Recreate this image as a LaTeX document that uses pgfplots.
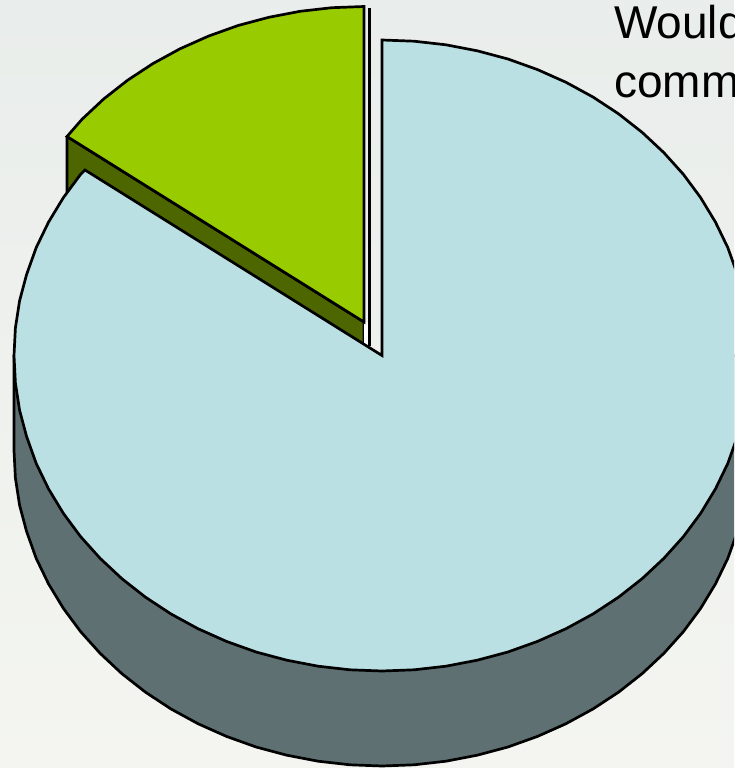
\documentclass[border=0pt]{standalone}
\usepackage{pgfplots}
\pgfplotsset{compat=1.18}
\usepackage{fontspec}
\setmainfont{Liberation Sans}
\definecolor{pblue}{HTML}{BBE0E3}
\definecolor{pgray}{HTML}{5E7072}
\definecolor{pgreen}{HTML}{99CC00}
\definecolor{pdark}{HTML}{4D6600}
\definecolor{bgB}{HTML}{F4F5F0}
\definecolor{bgC}{HTML}{E9EDEB}
\begin{document}
\begin{tikzpicture}
\useasboundingbox (0,0) rectangle (734pt,768pt);
\clip (0,0) rectangle (734pt,768pt);
\shade[top color=bgC,bottom color=bgB,middle color=bgC!50!bgB] (0,0) rectangle (734pt,768pt);
\begin{axis}[
  at={(0,0)},anchor=south west,scale only axis,
  width=734pt,height=768pt,
  xmin=0,xmax=734,ymin=0,ymax=768,y dir=reverse,
  axis lines=none,clip=true]
% side wall of the large slice
\addplot[fill=pgray,draw=black,line width=2.7pt,line join=round] coordinates {
(14,355.5)(14,450.5)(15.4,478)(19.6,505.3)(26.5,531.2)(36.2,558.4)(48.5,583.8)(63.3,608.25)(80.5,631.5)(100.1,653.3)(121.8,673.6)(145.5,692.2)(170.9,708.9)(198,723.7)(226.5,736.4)(256.1,747)(286.8,755.2)(318.1,761.2)(349.9,764.8)(382,766)(414.1,764.8)(445.9,761.2)(477.2,755.2)(507.9,747)(537.5,736.4)(566,723.7)(593.1,708.9)(618.5,692.2)(642.2,673.6)(663.9,653.3)(683.5,631.5)(700.7,608.25)(715.5,583.8)(727.8,558.4)(737.5,531.2)(744.4,505.3)(748.6,478)(750,450.5)(750,355.5)
} -- cycle;
% side wall of the small slice
\addplot[fill=pdark,draw=black,line width=2.7pt,line join=round] coordinates {
(67,136.5)(364,322)(364,356)(67,192)
} -- cycle;
% narrow slice
\addplot[fill=white,draw=none] coordinates {(364,322)(368,322)(368,347)(364,344)} -- cycle;
\addplot[draw=black,line width=3pt] coordinates {(369.5,8)(369.5,346)};
% large slice, top
\addplot[fill=pblue,draw=black,line width=2.7pt,line join=miter] coordinates {
(382,355.5)(382,40)(414.1,41.2)(445.9,44.8)(477.2,50.8)(507.9,59)(537.5,69.6)(566,82.3)(593.1,97.1)(618.5,113.8)(642.2,132.4)(663.9,152.7)(683.5,174.5)(700.7,197.75)(715.5,222.2)(727.8,247.6)(737.5,274.8)(744.4,300.7)(748.6,328)(750,355.5)(748.6,383)(744.4,410.3)(737.5,436.2)(727.8,463.4)(715.5,488.8)(700.7,513.25)(683.5,536.5)(663.9,558.3)(642.2,578.6)(618.5,597.2)(593.1,613.9)(566,628.7)(537.5,641.4)(507.9,652)(477.2,660.2)(445.9,666.2)(414.1,669.8)(382,671)(349.9,669.8)(318.1,666.2)(286.8,660.2)(256.1,652)(226.5,641.4)(198,628.7)(170.9,613.9)(145.5,597.2)(121.8,578.6)(100.1,558.3)(80.5,536.5)(63.3,513.25)(48.5,488.8)(36.2,463.4)(26.5,436.2)(19.6,410.3)(15.4,383)(14,355.5)(15.4,328)(19.6,300.7)(26.5,274.8)(36.2,247.6)(48.5,222.2)(63.3,197.75)(80.5,174.5)(85,170)
} -- cycle;
% small slice, top
\addplot[fill=pgreen,draw=black,line width=2.7pt,line join=miter] coordinates {
(364,322)(67,136.5)(82.1,119.2)(103.8,98.9)(127.5,80.3)(152.9,63.6)(180,48.8)(208.5,36.1)(238.1,25.5)(268.8,17.3)(300.1,11.3)(331.9,7.7)(364,6.5)
} -- cycle;
\node[anchor=base west,inner sep=0pt,font=\fontsize{46pt}{46pt}\selectfont] at (axis cs:614,39) {Would};
\node[anchor=base west,inner sep=0pt,font=\fontsize{46pt}{46pt}\selectfont] at (axis cs:614,97) {comm};
\end{axis}
\end{tikzpicture}
\end{document}
